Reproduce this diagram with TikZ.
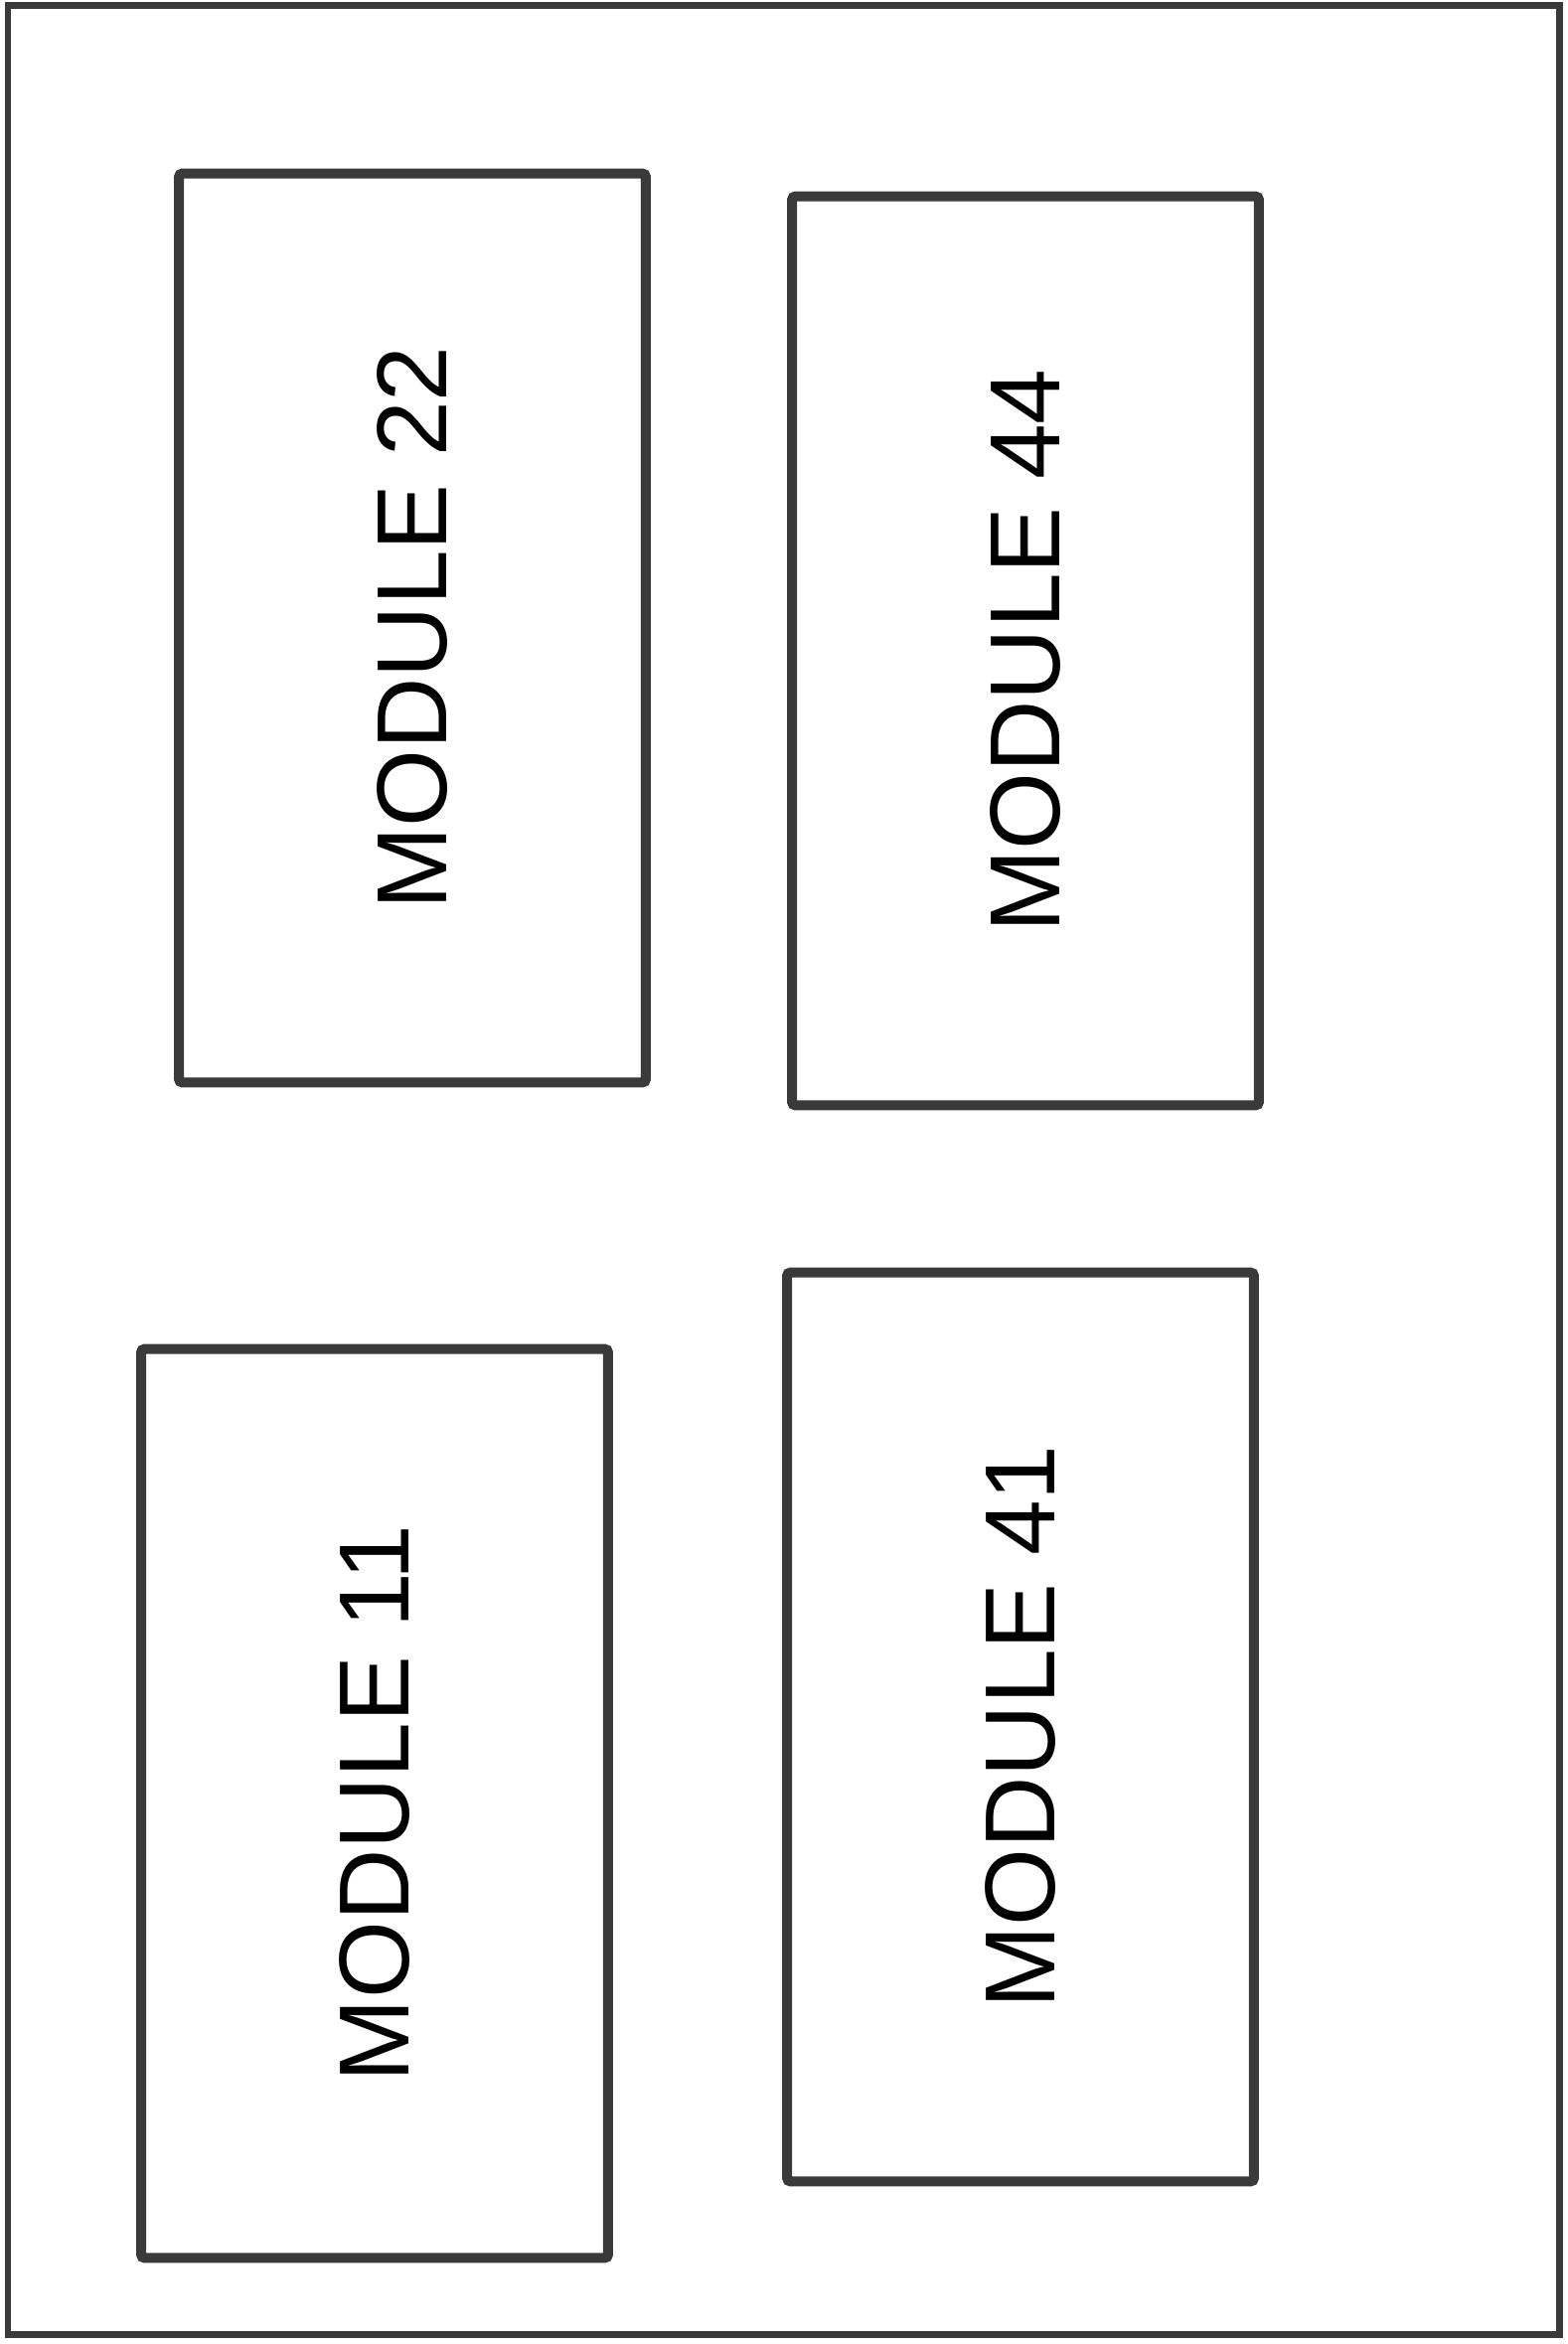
\documentclass[tikz,border=0pt]{standalone}
\usepackage{fontspec}
\setmainfont{Liberation Sans}
\usetikzlibrary{positioning}
\definecolor{frameink}{HTML}{3A3A3A}
\tikzset{
  modbox/.style = {rectangle, rounded corners=2pt, draw=frameink, line width=0.2cm,
                   rotate=90, minimum width=18.3cm, minimum height=9.4cm, inner sep=0pt,
                   font=\fontsize{57}{60}\selectfont},
  encl/.style   = {draw=frameink, line width=0.14cm},
}
\begin{document}
\begin{tikzpicture}[x=0.02cm, y=-0.02cm]
\useasboundingbox (0,0) rectangle (1578,2359);
% enclosure
\draw[encl] (8,6) rectangle (1569,2349);
% modules
\node[modbox] (m22) at (415,632) {MODULE 22};
\node[modbox] (m44) at (1032,655) {MODULE 44};
\node[modbox] (m11) at (377,1815) {MODULE 11};
\node[modbox] (m41) at (1027,1738) {MODULE 41};
\end{tikzpicture}
\end{document}
